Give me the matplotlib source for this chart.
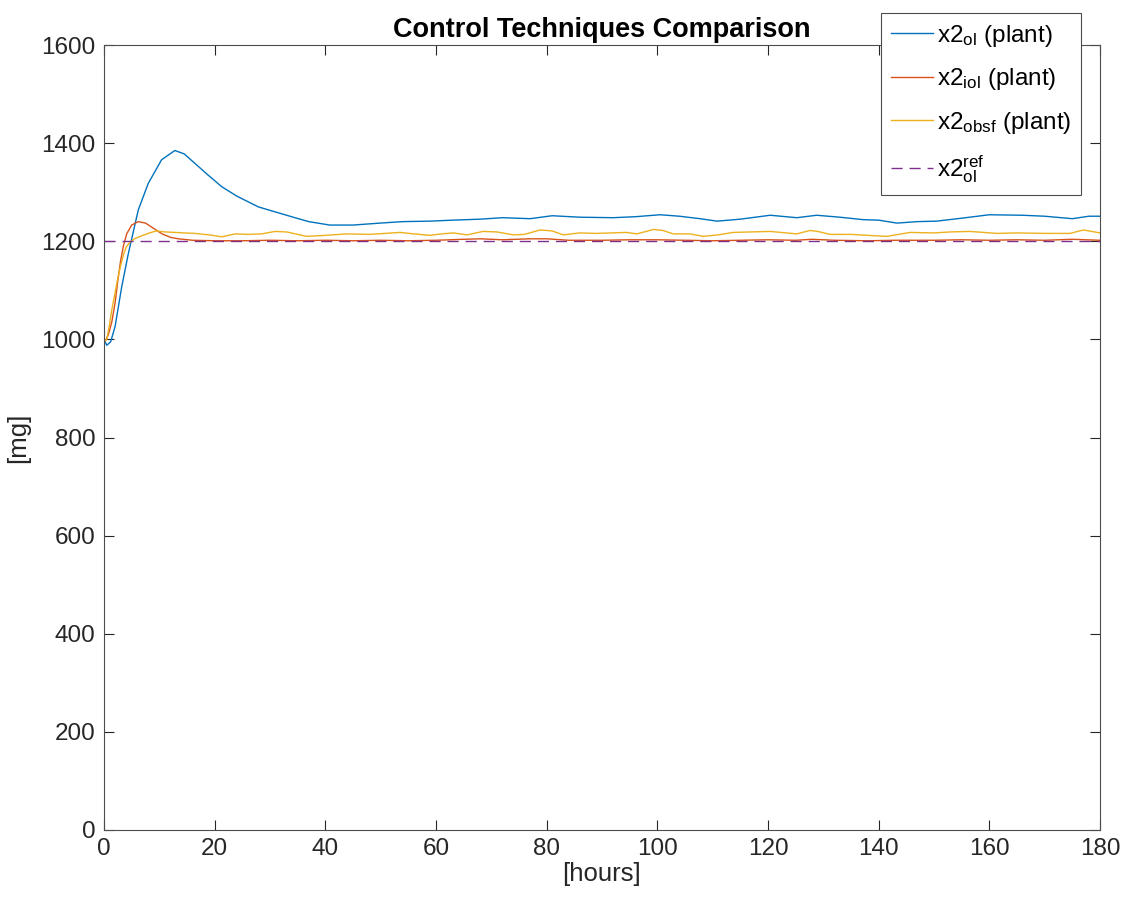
import matplotlib
matplotlib.use("Agg")
import matplotlib.pyplot as plt
import numpy as np

plt.rcParams['font.family'] = ['Liberation Sans', 'DejaVu Sans']
plt.rcParams['mathtext.fontset'] = 'custom'
plt.rcParams['mathtext.rm'] = 'Liberation Sans'
plt.rcParams['mathtext.it'] = 'Liberation Sans'

# x2 open loop (plant)
t_ol = [0, 0.5, 1.2, 2, 3.2, 4.4, 6.2, 8, 10.4, 12.8, 14.5, 16.4, 18.8, 21.3, 24, 27.9,
        31.8, 34.5, 37, 40.8, 45, 49.9, 54, 58.9, 63, 68, 72, 77, 81, 86, 92, 96, 100.5,
        104, 107.7, 110.8, 115, 120.4, 125.2, 128.8, 133, 137.2, 140, 143.3, 147, 150.5,
        155, 160, 166, 170, 175, 178, 180]
x2_ol = [1000, 988, 995, 1026, 1107, 1175, 1264, 1318, 1366, 1385, 1378, 1359, 1335, 1311,
         1292, 1270, 1257, 1248, 1240, 1233, 1233, 1237, 1240, 1241, 1243, 1245, 1248, 1246,
         1252, 1249, 1248, 1250, 1254, 1251, 1246, 1241, 1245, 1253, 1248, 1253, 1249, 1244,
         1243, 1237, 1240, 1241, 1247, 1254, 1253, 1251, 1246, 1251, 1251]

# x2 inverse open loop (plant)
t_iol = [0, 0.3, 0.8, 1.4, 2, 2.5, 3, 3.5, 4.1, 5, 6.2, 7.5, 9, 10.5, 12, 13.4, 16, 20, 25,
         30, 35, 40, 45, 50, 55, 60, 65, 68, 72, 77, 80, 84, 90, 95, 100, 105, 110, 115,
         120, 125, 128, 132, 138, 143, 150, 155, 160, 165, 170, 175, 180]
x2_iol = [1000, 998, 1010, 1035, 1074, 1120, 1160, 1190, 1215, 1233, 1240, 1237, 1226, 1215,
          1208, 1205, 1202, 1201, 1201, 1202, 1201, 1202, 1201, 1202, 1201, 1202, 1204, 1205,
          1203, 1205, 1205, 1202, 1202, 1203, 1203, 1202, 1201, 1202, 1203, 1202, 1204, 1202,
          1201, 1202, 1202, 1203, 1202, 1203, 1202, 1204, 1202]

# x2 observer state feedback (plant)
t_obsf = [0, 0.5, 1, 1.4, 2, 2.5, 3, 3.5, 4, 4.7, 5.5, 7, 8.5, 9.5, 11, 12.8, 14.5, 16.4,
          19, 21.3, 23.7, 26, 28.5, 30.9, 33, 36.6, 40, 43.8, 48, 53.5, 56, 58.9, 61, 63.1,
          65.6, 68.5, 71, 74, 76, 78.8, 81, 83, 86, 89, 94.4, 96.3, 99.3, 101, 102.9, 105.9,
          108.3, 111, 113.7, 117, 120.4, 125.2, 127.6, 129, 131.2, 135, 138, 141.5, 145.7,
          150, 153, 156.5, 161.4, 165, 170, 174.6, 177, 180]
x2_obsf = [995, 1000, 1030, 1060, 1095, 1125, 1150, 1172, 1188, 1198, 1205, 1212, 1218, 1221,
           1219, 1218, 1217, 1216, 1213, 1209, 1215, 1214, 1215, 1220, 1219, 1210, 1212, 1215,
           1214, 1218, 1215, 1212, 1215, 1217, 1213, 1220, 1219, 1213, 1214, 1223, 1221, 1213,
           1217, 1216, 1218, 1215, 1224, 1222, 1215, 1215, 1210, 1213, 1218, 1219, 1220, 1215,
           1222, 1220, 1214, 1214, 1212, 1210, 1218, 1217, 1219, 1220, 1216, 1217, 1216, 1216,
           1223, 1217]

# reference
t_ref = [0, 180]
x2_ref = [1200, 1200]

fig = plt.figure(figsize=(11.26, 9.01), dpi=100)
ax = fig.add_axes([104 / 1126, 1 - 830 / 901, 996 / 1126, 785 / 901])

ax.plot(t_ol, x2_ol, color='#0072BD', lw=1.0, label=r'x2$_{\rm ol}$ (plant)')
ax.plot(t_iol, x2_iol, color='#D95319', lw=1.0, label=r'x2$_{\rm iol}$ (plant)')
ax.plot(t_obsf, x2_obsf, color='#EDB120', lw=1.0, label=r'x2$_{\rm obsf}$ (plant)')
ax.plot(t_ref, x2_ref, color='#7E2F8E', lw=1.0, dashes=(8, 5), label=r'x2$_{\rm ol}^{\rm ref}$')

ax.set_xlim(0, 180)
ax.set_ylim(0, 1600)
ax.set_xticks(np.arange(0, 181, 20))
ax.set_yticks(np.arange(0, 1601, 200))

axis_col = '#262626'
for s in ax.spines.values():
    s.set_color('#4d4d4d')
    s.set_linewidth(0.8)
ax.tick_params(direction='in', length=7, width=0.8, colors=axis_col, labelsize=17.5,
               top=True, right=True, pad=6)

ax.set_xlabel('[hours]', fontsize=18.5, color=axis_col, labelpad=1)
ax.set_ylabel('[mg]', fontsize=18.5, color=axis_col, labelpad=8)
ax.set_title('Control Techniques Comparison', fontsize=19.5, fontweight='bold', pad=6)

leg = ax.legend(loc='upper left', bbox_to_anchor=(881 / 1126, 1 - 13 / 901),
                bbox_transform=fig.transFigure, borderaxespad=0, fontsize=17.5,
                fancybox=False, framealpha=1, edgecolor='#4d4d4d', handlelength=1.75,
                handletextpad=0.15, borderpad=0.4, labelspacing=0.72)
leg.get_frame().set_linewidth(0.8)

fig.savefig('out.png', dpi=100)
